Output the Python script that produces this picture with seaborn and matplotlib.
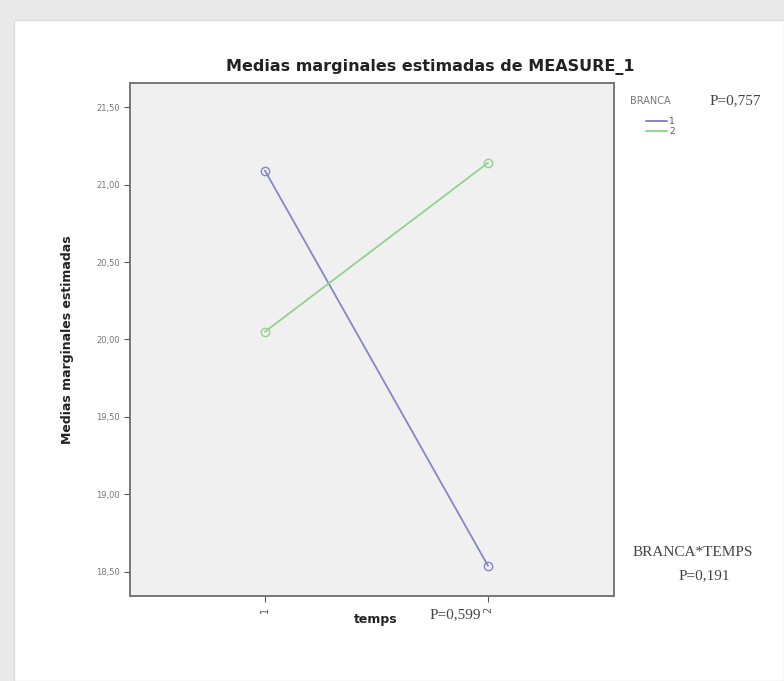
import matplotlib
matplotlib.use("Agg")
import matplotlib.pyplot as plt
import seaborn as sns
import pandas as pd
from matplotlib.patches import Rectangle
from matplotlib.lines import Line2D

temps = [1, 2]
branca_1 = [21.09, 18.54]
branca_2 = [20.05, 21.14]
yticks = [18.5, 19.0, 19.5, 20.0, 20.5, 21.0, 21.5]
ytick_labels = ["18,50", "19,00", "19,50", "20,00", "20,50", "21,00", "21,50"]
colors = {"1": "#8587c6", "2": "#92d28f"}

df = pd.DataFrame({
    "temps": temps * 2,
    "media": branca_1 + branca_2,
    "BRANCA": ["1"] * 2 + ["2"] * 2,
})

sns.set_style("white")
fig = plt.figure(figsize=(7.84, 6.81), dpi=100)
fig.patch.set_facecolor("#e9e9e9")
fig.patches.append(Rectangle((14 / 784, 0), 770 / 784, 1 - 20 / 681,
                             transform=fig.transFigure, facecolor="white",
                             edgecolor="#dddddd", lw=1, zorder=-10))

W, H = 784, 681
ax = fig.add_axes([130 / W, 1 - 596 / H, (614 - 130) / W, (596 - 83) / H])
ax.set_zorder(5)
ax.set_facecolor("#f0f0f0")
sns.lineplot(data=df, x="temps", y="media", hue="BRANCA", palette=colors,
             marker="o", markersize=6, markerfacecolor="none",
             markeredgewidth=1.0, lw=1.3, ax=ax, legend=False)
for line, c in zip(ax.lines, colors.values()):
    line.set_markeredgecolor(c)

ax.set_xlim(0.395, 2.565)
ax.set_ylim(18.345, 21.655)
ax.set_xticks(temps)
ax.set_xticklabels(["1", "2"], fontsize=7, color="#555555", rotation=90)
ax.set_yticks(yticks)
ax.set_yticklabels(ytick_labels, fontsize=6, color="#777777")
ax.tick_params(axis="both", length=4, width=0.8, color="#555555", direction="out",
               left=True, bottom=True)
for s in ax.spines.values():
    s.set_color("#777777")
    s.set_linewidth(1.4)
ax.set_xlabel("")
ax.set_ylabel("Medias marginales estimadas", fontsize=9, fontweight="bold",
              color="#222222", labelpad=16)
ax.set_title("")

fig.text(430 / W, 1 - 67 / H, "Medias marginales estimadas de MEASURE_1",
         fontsize=11.5, fontweight="bold", color="#222222", ha="center", va="center")

fig.text(376 / W, 1 - 619 / H, "temps", fontsize=9, fontweight="bold",
         color="#222222", ha="center", va="center")
fig.text(455 / W, 1 - 615 / H, "P=0,599", fontsize=11, family="Liberation Serif",
         color="#444444", ha="center", va="center")

fig.text(630 / W, 1 - 101 / H, "BRANCA", fontsize=7, color="#777777",
         ha="left", va="center")
fig.text(710 / W, 1 - 101 / H, "P=0,757", fontsize=11, family="Liberation Serif",
         color="#444444", ha="left", va="center")
fig.lines.append(Line2D([646 / W, 667 / W], [1 - 121 / H] * 2,
                        transform=fig.transFigure, color=colors["1"], lw=1.4))
fig.lines.append(Line2D([646 / W, 667 / W], [1 - 131 / H] * 2,
                        transform=fig.transFigure, color=colors["2"], lw=1.4))
fig.text(669 / W, 1 - 121 / H, "1", fontsize=6.5, color="#555555", ha="left", va="center")
fig.text(669 / W, 1 - 131 / H, "2", fontsize=6.5, color="#555555", ha="left", va="center")

fig.text(693 / W, 1 - 553 / H, "BRANCA*TEMPS", fontsize=11, family="Liberation Serif",
         color="#444444", ha="center", va="center")
fig.text(704 / W, 1 - 576 / H, "P=0,191", fontsize=11, family="Liberation Serif",
         color="#444444", ha="center", va="center")

fig.savefig("out.png", dpi=100, facecolor=fig.get_facecolor())
